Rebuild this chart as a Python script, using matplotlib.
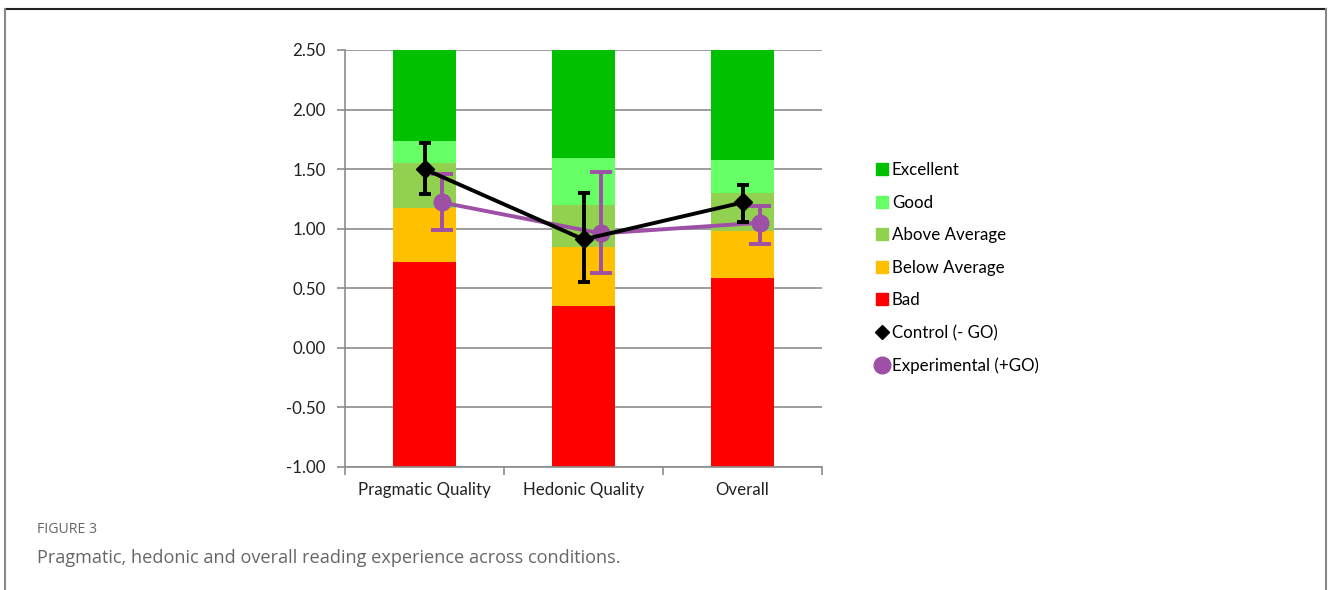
import numpy as np
import matplotlib.pyplot as plt
from matplotlib.lines import Line2D

cats = ['Pragmatic Quality', 'Hedonic Quality', 'Overall']

# benchmark band limits (upper bound of each band), bars start at -1
bad = [0.72, 0.35, 0.59]
below = [1.17, 0.85, 0.98]
above = [1.55, 1.20, 1.30]
good = [1.74, 1.59, 1.58]
excel = [2.50, 2.50, 2.50]

ctl = [1.50, 0.91, 1.22]
ctl_lo = [1.29, 0.55, 1.06]
ctl_hi = [1.72, 1.30, 1.37]

exp = [1.22, 0.96, 1.05]
exp_lo = [0.99, 0.63, 0.87]
exp_hi = [1.46, 1.48, 1.19]

band_names = ['Excellent', 'Good', 'Above Average', 'Below Average', 'Bad']
band_cols = ['#00C000', '#66FF66', '#92D050', '#FFC000', '#FF0000']

plt.rcParams['font.family'] = ['Lato', 'DejaVu Sans']

fig = plt.figure(figsize=(13.28, 5.9), dpi=100)
ax = fig.add_axes([0.2598, 0.2085, 0.3592, 0.7068])

x = np.arange(len(cats))
w = 0.40
tops = [bad, below, above, good, excel]
prev = [-1.0, -1.0, -1.0]
for i, t in enumerate(tops):
    h = np.array(t) - np.array(prev)
    ax.bar(x, h, w, bottom=prev, color=band_cols[4 - i], zorder=2, linewidth=0)
    prev = t

off = 0.11
purple = '#9E4FA6'
ctl = np.array(ctl)
exp = np.array(exp)
ax.errorbar(x + off, exp, yerr=[exp - np.array(exp_lo), np.array(exp_hi) - exp],
            color=purple, lw=2.8, marker='o', ms=12, capsize=8, capthick=2.8,
            elinewidth=2.8, zorder=3)
ax.errorbar(x, ctl, yerr=[ctl - np.array(ctl_lo), np.array(ctl_hi) - ctl],
            color='black', lw=2.8, marker='D', ms=9, capsize=4, capthick=2.8,
            elinewidth=2.8, zorder=4)

ax.set_xlim(-0.5, 2.5)
ax.set_ylim(-1.0, 2.5)
ax.set_yticks(np.arange(-1.0, 2.51, 0.5))
ax.set_yticklabels(['%.2f' % v for v in np.arange(-1.0, 2.51, 0.5)])
ax.yaxis.grid(True, color='#8C8C8C', lw=1.2, zorder=1)
ax.set_axisbelow(True)
ax.set_xticks(x)
ax.set_xticklabels(cats)
ax.set_xticks([-0.5, 0.5, 1.5, 2.5], minor=True)
ax.tick_params(axis='x', which='major', length=0, pad=11, labelsize=12.2, colors='#222222')
ax.tick_params(axis='x', which='minor', length=6, width=1.2, color='#8C8C8C')
ax.tick_params(axis='y', length=6, width=1.2, color='#8C8C8C', pad=8, labelsize=12.2,
               labelcolor='#222222')
for s in ['top', 'right']:
    ax.spines[s].set_visible(False)
for s in ['left', 'bottom']:
    ax.spines[s].set_color('#8C8C8C')
    ax.spines[s].set_linewidth(1.2)

handles = [Line2D([], [], ls='none', marker='s', ms=8, color=c) for c in band_cols]
handles.append(Line2D([], [], ls='none', marker='D', ms=7, color='black'))
handles.append(Line2D([], [], ls='none', marker='o', ms=12, color=purple))
fig.legend(handles, band_names + ['Control (- GO)', 'Experimental (+GO)'],
           loc='upper left', bbox_to_anchor=(0.655, 0.737), frameon=False,
           fontsize=12.2, labelspacing=0.98, handlelength=0.6, handletextpad=0.3,
           borderaxespad=0)

# caption below the plot
fig.text(0.028, 0.097, 'FIGURE 3', fontsize=10.2, color='#666666', family='Open Sans')
fig.text(0.028, 0.045, 'Pragmatic, hedonic and overall reading experience across conditions.',
         fontsize=13.1, color='#666666', family='Open Sans')

# outer frame: top, left and right edges
fig.add_artist(Line2D([0.004, 0.9985], [0.985, 0.985], color='#222222', lw=1.5))
fig.add_artist(Line2D([0.004, 0.004], [0.0, 0.985], color='#888888', lw=1.5))
fig.add_artist(Line2D([0.9985, 0.9985], [0.0, 0.985], color='#888888', lw=1.5))

fig.savefig('out.png', dpi=100)
